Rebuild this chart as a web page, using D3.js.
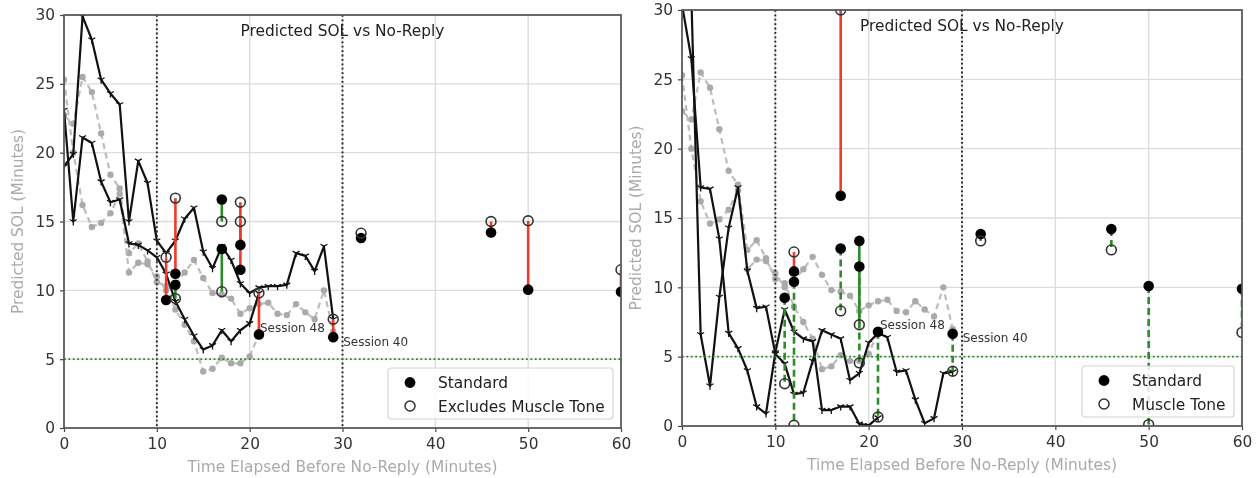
<!DOCTYPE html>
<html>
<head>
<meta charset="utf-8">
<script src="https://cdnjs.cloudflare.com/ajax/libs/d3/7.8.5/d3.min.js"></script>
<style>
  body { margin: 0; background: #fff; }
  svg { font-family: "DejaVu Sans", sans-serif; filter: blur(0.35px); }
</style>
</head>
<body>
<svg id="chart" width="1257" height="478"></svg>
<script>
/* ticks */
const xTicks = [0, 10, 20, 30, 40, 50, 60];
const yTicks = [0, 5, 10, 15, 20, 25, 30];
const markerLines = [10, 30];   // dotted vertical lines (minutes)
const thresholdSOL = 5;         // green dotted line

/* gray dashed traces (same in both panels) */
const grayTraceA = [[0,22.7],[1,22.1],[2,25.5],[3,24.4],[4,21.4],[5,18.4],[6,17.4],[7,12.7],[8,13.4],[9,12.1],[10,10.6],[11,10.3],[12,8.6],[13,7.5],[14,6.3],[15,4.1],[16,4.3],[17,5.1],[18,4.7],[19,4.7],[20,5.2],[21,6.8]];
const grayTraceB = [[0,25.3],[1,20.0],[2,16.2],[3,14.6],[4,14.9],[5,15.6],[6,17.0],[7,11.3],[8,12.0],[9,11.9],[10,11.0],[11,10.0],[12,10.5],[13,11.3],[14,12.2],[15,10.9],[16,9.8],[17,9.7],[18,9.4],[19,8.3],[20,8.7],[21,9.0],[22,9.1],[23,8.3],[24,8.2],[25,9.0],[26,8.4],[27,7.9],[28,10.0],[29,7.0]];

/* black traces, left panel */
const leftTraceA = [[0,19.0],[1,19.9],[2,29.9],[3,28.2],[4,25.3],[5,24.3],[6,23.5],[7,15.0],[8,19.4],[9,17.8],[10,13.6],[11,12.7],[12,13.6],[13,15.2],[14,16.0],[15,12.8],[16,11.6],[17,13.2],[18,12.2],[19,10.5],[20,9.8],[21,10.2],[22,10.3],[23,10.3],[24,10.4],[25,12.7],[26,12.5],[27,11.4],[28,13.2],[29,7.9]];
const leftTraceB = [[0,23.1],[1,15.0],[2,21.1],[3,20.7],[4,17.9],[5,16.4],[6,16.6],[7,13.4],[8,13.3],[9,12.9],[10,12.4],[11,11.2],[12,9.2],[13,7.9],[14,6.7],[15,5.7],[16,6.0],[17,7.1],[18,6.3],[19,7.1],[20,7.6],[21,9.8]];

/* black traces, right panel */
const rightTraceA = [[0,30.4],[1,26.5],[2,17.2],[3,17.1],[4,13.5],[5,6.7],[6,5.6],[7,4.0],[8,1.4],[9,0.9],[10,5.3],[11,8.4],[12,6.8],[13,6.3],[14,6.1],[15,1.15],[16,1.15],[17,1.4],[18,1.4],[19,0.15],[20,0.05],[21,0.6]];
const rightTraceB = [[1,31],[2,6.6],[3,2.9],[4,9.3],[5,14.3],[6,17.2],[7,11.2],[8,8.5],[9,8.6],[10,5.2],[11,4.5],[12,2.3],[13,2.4],[14,4.7],[15,6.9],[16,6.6],[17,6.3],[18,3.3],[19,3.8],[20,6.0],[21,6.7],[22,6.4],[23,3.9],[24,4.0],[25,1.9],[26,0.2],[27,0.55],[28,3.8],[29,3.9]];

/* session pairs: [minute, standard, alternative, dashed] */
const leftPairs = [
  [11, 9.3, 12.4, false],
  [12, 11.2, 16.7, false],
  [12, 10.4, 9.4, false],
  [17, 16.6, 15.0, false],
  [17, 13.0, 9.9, false],
  [19, 13.3, 16.4, false],
  [19, 11.5, 15.0, false],
  [21, 6.8, 9.8, false],
  [29, 6.6, 7.9, false],
  [32, 13.8, 14.15, false],
  [46, 14.2, 15.0, false],
  [50, 10.05, 15.05, false],
  [60, 9.9, 11.5, false]
];
const rightPairs = [
  [11, 9.25, 3.05, true],
  [12, 11.15, 12.55, false],
  [12, 10.4, 0.05, true],
  [17, 16.6, 30.0, false],
  [17, 12.8, 8.3, true],
  [19, 13.35, 7.3, false],
  [19, 11.5, 4.55, true],
  [21, 6.8, 0.65, true],
  [29, 6.65, 3.95, true],
  [32, 13.85, 13.35, true],
  [46, 14.2, 12.7, true],
  [50, 10.1, 0.1, true],
  [60, 9.9, 6.75, true]
];

const sessionLabels = [
  { minute: 21, text: "Session 48" },
  { minute: 29, text: "Session 40" }
];

const svg = d3.select("#chart");

function drawPanel(p) {
  const x = d3.scaleLinear().domain([0, 60]).range([p.left, p.right]);
  const y = d3.scaleLinear().domain([0, 30]).range([p.bottom, p.top]);

  const clipId = "clip-" + p.id;
  svg.append("clipPath").attr("id", clipId)
    .append("rect")
    .attr("x", p.left).attr("y", p.top)
    .attr("width", p.right - p.left).attr("height", p.bottom - p.top);

  const g = svg.append("g");

  // grid
  g.append("g").selectAll("line").data(xTicks).join("line")
    .attr("x1", d => x(d)).attr("x2", d => x(d))
    .attr("y1", p.top).attr("y2", p.bottom)
    .attr("stroke", "#dcdcdc").attr("stroke-width", 1.4);
  g.append("g").selectAll("line").data(yTicks).join("line")
    .attr("y1", d => y(d)).attr("y2", d => y(d))
    .attr("x1", p.left).attr("x2", p.right)
    .attr("stroke", "#dcdcdc").attr("stroke-width", 1.4);

  const plot = g.append("g").attr("clip-path", `url(#${clipId})`);

  const line = d3.line().x(d => x(d[0])).y(d => y(d[1]));

  // gray dashed traces
  [grayTraceA, grayTraceB].forEach(tr => {
    plot.append("path").datum(tr)
      .attr("fill", "none").attr("stroke", "#bdbdbd")
      .attr("stroke-width", 2.2).attr("stroke-dasharray", "6,4")
      .attr("d", line);
    plot.append("g").selectAll("circle").data(tr).join("circle")
      .attr("cx", d => x(d[0])).attr("cy", d => y(d[1]))
      .attr("r", 3.2).attr("fill", "#aaaaaa");
  });

  // black traces with tri-down markers
  const r = 4;
  const tri = `M0,0L0,${r}M0,0L${-0.87 * r},${-0.5 * r}M0,0L${0.87 * r},${-0.5 * r}`;
  p.traces.forEach(tr => {
    plot.append("path").datum(tr)
      .attr("fill", "none").attr("stroke", "#111")
      .attr("stroke-width", 2.2).attr("stroke-linejoin", "round")
      .attr("d", line);
    plot.append("g").selectAll("path").data(tr).join("path")
      .attr("transform", d => `translate(${x(d[0])},${y(d[1])})`)
      .attr("d", tri).attr("stroke", "#111").attr("stroke-width", 1.3)
      .attr("fill", "none");
  });

  // reference lines
  plot.append("g").selectAll("line").data(markerLines).join("line")
    .attr("x1", d => x(d)).attr("x2", d => x(d))
    .attr("y1", p.top).attr("y2", p.bottom)
    .attr("stroke", "#222").attr("stroke-width", 1.9)
    .attr("stroke-dasharray", "1.8,2.6");
  plot.append("line")
    .attr("x1", p.left).attr("x2", p.right)
    .attr("y1", y(thresholdSOL)).attr("y2", y(thresholdSOL))
    .attr("stroke", "#2a8a2a").attr("stroke-width", 1.7)
    .attr("stroke-dasharray", "1.8,2.6");

  // pair segments
  plot.append("g").selectAll("line").data(p.pairs).join("line")
    .attr("x1", d => x(d[0])).attr("x2", d => x(d[0]))
    .attr("y1", d => y(d[1])).attr("y2", d => y(d[2]))
    .attr("stroke", d => d[2] > d[1] ? "#f03a2a" : "#2f8a2a")
    .attr("stroke-width", 2.6)
    .attr("stroke-dasharray", d => d[3] ? "7,4" : null);

  // standard (filled)
  plot.append("g").selectAll("circle").data(p.pairs).join("circle")
    .attr("cx", d => x(d[0])).attr("cy", d => y(d[1]))
    .attr("r", 5.3).attr("fill", "#000");
  // alternative (open)
  plot.append("g").selectAll("circle").data(p.pairs).join("circle")
    .attr("cx", d => x(d[0])).attr("cy", d => y(d[2]))
    .attr("r", 4.9).attr("fill", "none")
    .attr("stroke", "#333").attr("stroke-width", 1.6);

  // session labels
  sessionLabels.forEach(s => {
    const pair = p.pairs.find(d => d[0] === s.minute);
    const off = p.labelOffsets[s.text];
    g.append("text")
      .attr("x", x(s.minute) + off[0])
      .attr("y", y(pair[1]) + off[1])
      .attr("font-size", 12).attr("fill", "#333")
      .text(s.text);
  });

  // axes
  const xAxis = g.append("g")
    .attr("transform", `translate(0,${p.bottom})`)
    .call(d3.axisBottom(x).tickValues(xTicks).tickSize(4).tickPadding(6));
  const yAxis = g.append("g")
    .attr("transform", `translate(${p.left},0)`)
    .call(d3.axisLeft(y).tickValues(yTicks).tickSize(4).tickPadding(5));
  [xAxis, yAxis].forEach(a => {
    a.select(".domain").remove();
    a.selectAll("line").attr("stroke", "#444").attr("stroke-width", 1.2);
    a.selectAll("text").attr("font-size", 15.4).attr("fill", "#333")
      .attr("font-family", "DejaVu Sans");
  });

  // frame
  g.append("rect")
    .attr("x", p.left).attr("y", p.top)
    .attr("width", p.right - p.left).attr("height", p.bottom - p.top)
    .attr("fill", "none").attr("stroke", "#555").attr("stroke-width", 1.7);

  // title
  g.append("text")
    .attr("x", (p.left + p.right) / 2).attr("y", p.top + 21)
    .attr("text-anchor", "middle").attr("font-size", 15.4).attr("fill", "#222")
    .text("Predicted SOL vs No-Reply");

  // axis labels
  g.append("text")
    .attr("x", (p.left + p.right) / 2).attr("y", p.bottom + 44)
    .attr("text-anchor", "middle").attr("font-size", 15.4).attr("fill", "#aaa")
    .text("Time Elapsed Before No-Reply (Minutes)");
  g.append("text")
    .attr("transform", `translate(${p.left - 41},${(p.top + p.bottom) / 2}) rotate(-90)`)
    .attr("text-anchor", "middle").attr("font-size", 15.4).attr("fill", "#aaa")
    .text("Predicted SOL (Minutes)");

  // legend
  const lg = g.append("g").attr("transform", `translate(${p.legend[0]},${p.legend[1]})`);
  lg.append("rect")
    .attr("width", p.legend[2]).attr("height", 51).attr("rx", 3)
    .attr("fill", "#fff").attr("fill-opacity", 0.85)
    .attr("stroke", "#d4d4d4").attr("stroke-width", 1.2);
  lg.append("circle").attr("cx", 22).attr("cy", 14.5).attr("r", 5.4).attr("fill", "#000");
  lg.append("circle").attr("cx", 22).attr("cy", 38).attr("r", 5).attr("fill", "none")
    .attr("stroke", "#333").attr("stroke-width", 1.5);
  lg.append("text").attr("x", 50).attr("y", 20).attr("font-size", 15.4).attr("fill", "#222")
    .text("Standard");
  lg.append("text").attr("x", 50).attr("y", 43.5).attr("font-size", 15.4).attr("fill", "#222")
    .text(p.altName);
}

drawPanel({
  id: "left", left: 64, right: 621, top: 15, bottom: 428,
  traces: [leftTraceA, leftTraceB], pairs: leftPairs,
  altName: "Excludes Muscle Tone",
  legend: [388, 368, 225],
  labelOffsets: { "Session 48": [1, -2], "Session 40": [10, 9] }
});
drawPanel({
  id: "right", left: 682, right: 1242, top: 10, bottom: 426,
  traces: [rightTraceA, rightTraceB], pairs: rightPairs,
  altName: "Muscle Tone",
  legend: [1082, 366, 152],
  labelOffsets: { "Session 48": [2, -3], "Session 40": [10, 8] }
});
</script>
</body>
</html>
